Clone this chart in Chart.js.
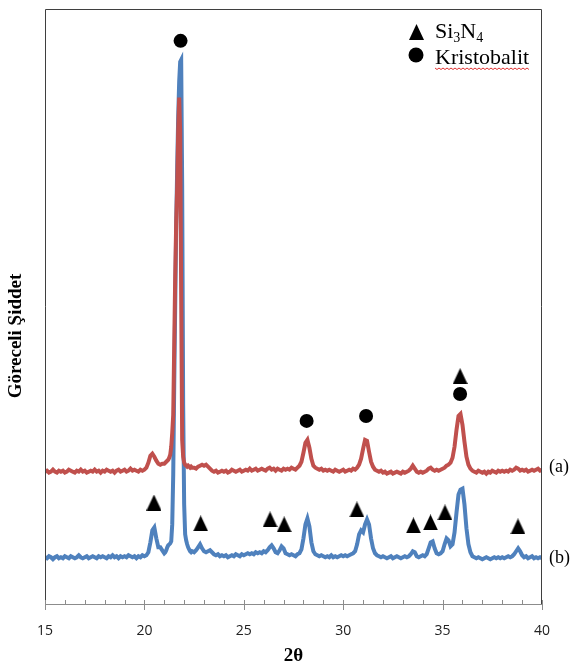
<!DOCTYPE html>
<html>
<head>
<meta charset="utf-8">
<script src="https://cdn.jsdelivr.net/npm/chart.js@4.4.0/dist/chart.umd.min.js"></script>
<style>
	body { margin: 0; background: #fff; }
	canvas { display: block; }
</style>
</head>
<body>
<canvas id="xrd" width="571" height="670"></canvas>
<script>
// 2theta grid shared by both patterns (finer around the main cristobalite peak)
var twoTheta = [
	15.0,15.1,15.2,15.3,15.4,15.5,15.6,15.7,15.8,15.9,
	16.0,16.1,16.2,16.3,16.4,16.5,16.6,16.7,16.8,16.9,
	17.0,17.1,17.2,17.3,17.4,17.5,17.6,17.7,17.8,17.9,
	18.0,18.1,18.2,18.3,18.4,18.5,18.6,18.7,18.8,18.9,
	19.0,19.1,19.2,19.3,19.4,19.5,19.6,19.7,19.8,19.9,
	20.0,20.1,20.2,20.3,20.4,20.5,20.6,20.7,20.8,20.9,
	21.0,21.05,21.1,21.15,21.2,21.25,21.3,21.35,21.4,21.45,
	21.5,21.55,21.6,21.65,21.7,21.75,21.8,21.85,21.9,21.95,
	22.0,22.05,22.1,22.15,22.2,22.25,22.3,22.35,22.4,
	22.5,22.6,22.7,22.8,22.9,
	23.0,23.1,23.2,23.3,23.4,23.5,23.6,23.7,23.8,23.9,
	24.0,24.1,24.2,24.3,24.4,24.5,24.6,24.7,24.8,24.9,
	25.0,25.1,25.2,25.3,25.4,25.5,25.6,25.7,25.8,25.9,
	26.0,26.1,26.2,26.3,26.4,26.5,26.6,26.7,26.8,26.9,
	27.0,27.1,27.2,27.3,27.4,27.5,27.6,27.7,27.8,27.9,
	28.0,28.1,28.2,28.3,28.4,28.5,28.6,28.7,28.8,28.9,
	29.0,29.1,29.2,29.3,29.4,29.5,29.6,29.7,29.8,29.9,
	30.0,30.1,30.2,30.3,30.4,30.5,30.6,30.7,30.8,30.9,
	31.0,31.1,31.2,31.3,31.4,31.5,31.6,31.7,31.8,31.9,
	32.0,32.1,32.2,32.3,32.4,32.5,32.6,32.7,32.8,32.9,
	33.0,33.1,33.2,33.3,33.4,33.5,33.6,33.7,33.8,33.9,
	34.0,34.1,34.2,34.3,34.4,34.5,34.6,34.7,34.8,34.9,
	35.0,35.1,35.2,35.3,35.4,35.5,35.6,35.7,35.8,35.9,
	36.0,36.1,36.2,36.3,36.4,36.5,36.6,36.7,36.8,36.9,
	37.0,37.1,37.2,37.3,37.4,37.5,37.6,37.7,37.8,37.9,
	38.0,38.1,38.2,38.3,38.4,38.5,38.6,38.7,38.8,38.9,
	39.0,39.1,39.2,39.3,39.4,39.5,39.6,39.7,39.8,39.9,
	40.0
];

// pattern (a), red
var intensityA = [
	133,134,132,133,135,133,132,134,133,134,
	132,133,135,134,133,132,134,133,135,133,
	134,132,133,134,133,135,133,134,132,134,
	133,135,134,133,134,132,134,135,133,134,
	135,133,134,136,134,135,134,133,135,134,
	135,137,142,149,151,148,144,141,140,141,
	141,142,143,144,145,147,150,158,172,190,
	260,330,385,420,475,509,475,310,165,148,
	142,140,139,138,139,138,137,138,137,
	137,136,138,139,140,
	139,140,138,136,134,133,134,132,133,134,
	133,134,132,133,135,134,133,134,135,133,
	134,135,134,136,134,135,136,134,135,136,
	135,134,136,137,135,136,134,136,135,134,
	136,135,136,135,137,136,135,137,139,143,
	152,162,165,157,146,139,137,136,135,136,
	134,135,134,135,134,133,135,134,133,134,
	135,133,134,135,134,136,135,137,140,146,
	156,165,164,153,143,138,135,134,133,134,
	132,133,131,132,133,131,132,133,132,131,
	133,132,133,134,136,139,136,133,132,133,
	132,133,134,136,137,135,134,135,134,135,
	136,137,139,140,142,147,158,175,189,191,
	180,163,148,140,136,134,133,132,134,133,
	132,133,131,133,132,134,133,132,134,133,
	134,133,134,133,135,134,135,137,136,134,
	135,134,135,133,134,135,134,135,136,134,
	135
];

// pattern (b), blue
var intensityB = [
	47,46,48,47,45,47,48,46,47,46,
	48,47,46,48,47,46,47,49,47,46,
	47,48,46,47,48,47,46,48,47,48,
	47,46,48,47,49,47,48,46,48,47,
	48,47,49,48,47,48,46,48,47,49,
	48,49,52,62,74,77,66,57,57,54,
	51,52,54,57,59,60,61,63,80,130,
	220,300,380,440,490,525,545,547,420,200,
	100,70,64,60,57,55,53,52,53,
	52,54,57,60,56,
	53,52,53,54,52,50,49,50,48,49,
	48,49,47,48,49,48,50,49,48,50,
	49,50,51,50,51,50,52,51,52,51,
	53,52,54,57,59,56,52,51,54,58,
	56,51,50,49,50,49,48,50,51,55,
	66,80,86,78,62,53,50,49,48,49,
	48,47,48,47,49,47,48,47,48,49,
	48,49,48,49,50,51,53,60,70,74,
	72,80,85,80,66,56,51,49,48,47,
	48,47,46,47,48,46,47,48,47,46,
	47,48,47,48,50,53,52,48,47,48,
	49,48,50,56,62,63,56,51,50,51,
	53,60,66,64,58,60,72,92,110,115,
	116,100,76,60,52,48,47,46,47,46,
	45,46,47,46,45,46,47,46,47,46,
	47,46,47,48,47,48,50,53,56,53,
	49,47,48,46,47,48,46,47,46,47,
	46
];

// peak markers: Si3N4 (triangles) and Kristobalit (circles)
var triTheta = [20.48, 22.83, 26.32, 27.03, 30.69, 33.53, 34.39, 35.12, 38.79, 35.88];
var triLevel = [102, 81, 85, 80, 95, 79, 82, 92, 78, 229];
var circTheta = [21.82, 28.16, 31.15, 35.88];
var circLevel = [566, 184, 189, 211];

var seriesNames = ['(a)', '(b)'];
var legendNames = ['Si3N4', 'Kristobalit'];

var red = '#C0504D';
var blue = '#4F81BD';
var serif = '"Liberation Serif", "Times New Roman", serif';

function toPoints(xs, ys) {
	return xs.map(function(x, i) { return { x: x, y: ys[i] }; });
}

function triangleSprite(w, h) {
	var c = document.createElement('canvas');
	c.width = w;
	c.height = h;
	var g = c.getContext('2d');
	g.fillStyle = '#000';
	g.beginPath();
	g.moveTo(w / 2, 0);
	g.lineTo(w, h);
	g.lineTo(0, h);
	g.closePath();
	g.fill();
	return c;
}
var triSprite = triangleSprite(15, 16);

// frame, x ticks, end labels, y title and legend
var decorations = {
	id: 'decorations',
	afterDraw: function(chart) {
		var ctx = chart.ctx;
		var a = chart.chartArea;
		var xs = chart.scales.x;
		var ys = chart.scales.y;

		ctx.save();
		ctx.strokeStyle = '#3f3f3f';
		ctx.lineWidth = 1;
		ctx.beginPath();
		ctx.moveTo(a.left + 0.5, a.bottom);
		ctx.lineTo(a.left + 0.5, a.top + 0.5);
		ctx.lineTo(a.right - 0.5, a.top + 0.5);
		ctx.lineTo(a.right - 0.5, a.bottom);
		ctx.stroke();

		ctx.strokeStyle = '#8c8c8c';
		ctx.beginPath();
		ctx.moveTo(a.left, a.bottom + 0.5);
		ctx.lineTo(a.right, a.bottom + 0.5);
		for (var t = 15; t <= 40; t++) {
			var px = Math.round(xs.getPixelForValue(t)) + 0.5;
			var major = (t % 5 === 0);
			ctx.moveTo(px, a.bottom - 4);
			ctx.lineTo(px, a.bottom + (major ? 6 : 0));
		}
		ctx.stroke();

		ctx.fillStyle = '#000';
		ctx.font = '18px ' + serif;
		ctx.textAlign = 'left';
		ctx.textBaseline = 'middle';
		ctx.fillText(seriesNames[0], a.right + 7, ys.getPixelForValue(intensityA[intensityA.length - 1]) - 2);
		ctx.fillText(seriesNames[1], a.right + 7, ys.getPixelForValue(intensityB[intensityB.length - 1]));

		ctx.save();
		ctx.translate(16, 336);
		ctx.rotate(-Math.PI / 2);
		ctx.textAlign = 'center';
		ctx.font = 'bold 19px ' + serif;
		ctx.fillText('Göreceli Şiddet', 0, 0);
		ctx.restore();

		// legend
		ctx.drawImage(triSprite, 409, 24);
		ctx.beginPath();
		ctx.arc(416, 55, 7.5, 0, Math.PI * 2);
		ctx.fill();

		ctx.textBaseline = 'alphabetic';
		var x = 435;
		ctx.font = '22px ' + serif;
		ctx.fillText('Si', x, 38);
		x += ctx.measureText('Si').width;
		ctx.font = '14px ' + serif;
		ctx.fillText('3', x, 42);
		x += ctx.measureText('3').width;
		ctx.font = '22px ' + serif;
		ctx.fillText('N', x, 38);
		x += ctx.measureText('N').width;
		ctx.font = '14px ' + serif;
		ctx.fillText('4', x, 42);

		ctx.font = '22px ' + serif;
		ctx.fillText(legendNames[1], 435, 64);
		var w = ctx.measureText(legendNames[1]).width;

		// spell-check squiggle under the word
		ctx.strokeStyle = '#e03030';
		ctx.lineWidth = 1;
		ctx.beginPath();
		for (var s = 0; s <= w; s += 2) {
			var yy = 68 + ((s / 2) % 2 === 0 ? 0 : 1.5);
			if (s === 0) ctx.moveTo(435 + s, yy);
			else ctx.lineTo(435 + s, yy);
		}
		ctx.stroke();
		ctx.restore();
	}
};

new Chart(document.getElementById('xrd'), {
	type: 'scatter',
	data: {
		datasets: [{
			label: 'Kristobalit',
			data: toPoints(circTheta, circLevel),
			pointStyle: 'circle',
			pointRadius: 7,
			pointBackgroundColor: '#000',
			pointBorderWidth: 0,
			showLine: false
		}, {
			label: 'Si3N4',
			data: toPoints(triTheta, triLevel),
			pointStyle: triSprite,
			pointRadius: 8,
			showLine: false
		}, {
			label: seriesNames[0],
			data: toPoints(twoTheta, intensityA),
			showLine: true,
			borderColor: red,
			borderWidth: 4,
			pointRadius: 0,
			tension: 0
		}, {
			label: seriesNames[1],
			data: toPoints(twoTheta, intensityB),
			showLine: true,
			borderColor: blue,
			borderWidth: 4,
			pointRadius: 0,
			tension: 0
		}]
	},
	options: {
		responsive: false,
		animation: false,
		layout: { padding: { top: 6, right: 29, left: 0, bottom: 0 } },
		plugins: {
			legend: { display: false },
			tooltip: { enabled: false }
		},
		scales: {
			x: {
				type: 'linear',
				min: 15,
				max: 40,
				grid: { display: false, drawTicks: false },
				border: { display: false },
				ticks: {
					stepSize: 5,
					padding: 19,
					color: '#222',
					font: { family: '"Open Sans", "Liberation Sans", sans-serif', size: 14 }
				},
				title: {
					display: true,
					text: '2θ',
					color: '#000',
					font: { family: serif, size: 19, weight: 'bold' },
					padding: { top: 0, bottom: 3 }
				},
				afterFit: function(scale) { scale.height = 66; }
			},
			y: {
				min: 0,
				max: 598,
				grid: { display: false, drawTicks: false },
				border: { display: false },
				ticks: { display: false },
				afterFit: function(scale) { scale.width = 45; }
			}
		}
	},
	plugins: [decorations]
});
</script>
</body>
</html>
